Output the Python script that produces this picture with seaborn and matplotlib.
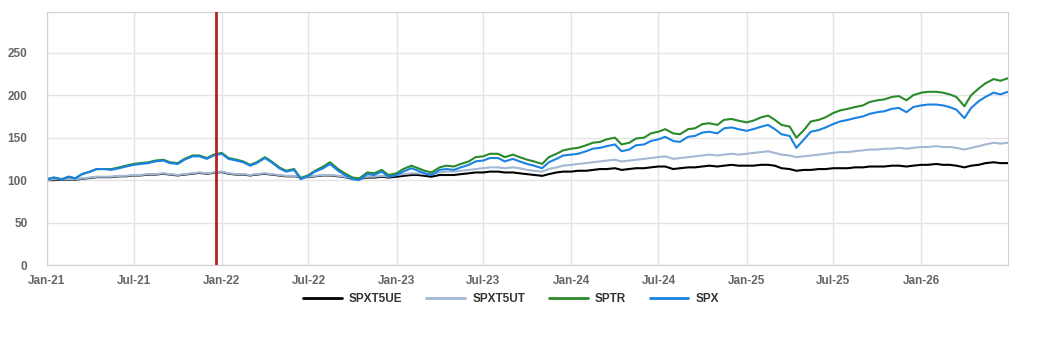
import pandas as pd
import numpy as np
import matplotlib
matplotlib.use("Agg")
import matplotlib.pyplot as plt
import matplotlib.dates as mdates
import seaborn as sns

# semimonthly readings, Jan 2021 -> Jul 2026
dates = pd.date_range("2021-01-01", "2026-07-01", freq="SMS")

spx = [101, 103, 101, 104, 102, 107, 110, 113, 113, 112, 114, 116,
       118, 119, 120, 122, 123, 120, 119, 124, 128, 128, 125, 129,
       131, 125, 123, 121, 117, 120, 126, 121, 114, 110, 112, 101,
       105, 110, 114, 119, 111, 106, 101, 100, 107, 106, 110, 104,
       106, 110, 114, 111, 108, 106, 112, 113, 112, 115, 118, 122,
       123, 126, 126, 122, 125, 122, 119, 117, 114, 121, 125, 129,
       130, 131, 134, 137, 138, 140, 142, 134, 136, 141, 142, 146,
       148, 151, 146, 145, 151, 152, 156, 157, 155, 161, 162, 160,
       158, 160, 163, 165, 160, 154, 152, 138, 148, 157, 159, 162,
       166, 169, 171, 173, 175, 178, 180, 181, 184, 185, 180, 186,
       188, 189, 189, 188, 186, 183, 173, 185, 193, 198, 203, 201,
       204]

sptr = [101, 103, 101, 104, 102, 107, 110, 113, 113, 113, 115, 117,
        119, 120, 121, 123, 124, 121, 120, 125, 129, 129, 126, 130,
        132, 126, 124, 122, 118, 121, 127, 122, 115, 111, 113, 102,
        106, 111, 116, 121, 113, 108, 103, 102, 109, 108, 112, 106,
        108, 113, 117, 114, 111, 109, 115, 117, 116, 119, 122, 127,
        128, 131, 131, 127, 130, 127, 124, 122, 119, 127, 131, 135,
        137, 138, 141, 144, 145, 148, 150, 142, 144, 149, 150, 155,
        157, 160, 155, 154, 160, 161, 166, 167, 165, 171, 172, 170,
        168, 170, 174, 176, 171, 165, 163, 150, 159, 169, 171, 174,
        179, 182, 184, 186, 188, 192, 194, 195, 198, 199, 194, 200,
        203, 204, 204, 203, 201, 198, 187, 200, 208, 214, 219, 217,
        220]

spxt5ut = [100, 101, 101, 101, 101, 102, 103, 104, 104, 104, 105, 105,
           106, 106, 107, 107, 108, 107, 106, 107, 108, 109, 108, 109,
           110, 108, 107, 107, 106, 107, 108, 107, 106, 105, 105, 104,
           104, 105, 106, 106, 105, 104, 102, 102, 104, 104, 105, 104,
           106, 107, 108, 108, 107, 107, 109, 110, 110, 111, 112, 113,
           114, 115, 115, 114, 115, 114, 112, 111, 110, 113, 115, 117,
           118, 119, 120, 121, 122, 123, 124, 122, 123, 124, 125, 126,
           127, 128, 125, 126, 127, 128, 129, 130, 129, 130, 131, 130,
           131, 132, 133, 134, 132, 130, 129, 127, 128, 129, 130, 131,
           132, 133, 133, 134, 135, 136, 136, 137, 137, 138, 137, 138,
           139, 139, 140, 139, 139, 138, 136, 138, 140, 142, 144, 143,
           144]

spxt5ue = [100, 100, 100.5, 100.5, 100.5, 101.5, 102.5, 103.5, 103.5, 103.5, 104.5, 104.5,
           105.5, 105.5, 106.5, 106.5, 107.5, 106.5, 105.5, 106.5, 107.5, 108.5, 107.5, 108.5,
           109.5, 107.5, 106.5, 106.5, 105.5, 106.5, 107.5, 106.5, 105.5, 104.5, 104.5, 103.5,
           103.5, 104.5, 105.5, 105.5, 104.5, 103.5, 101.5, 101.5, 103, 103, 104, 103,
           104, 105, 106, 106, 105, 104, 106, 106, 106, 107, 108, 109,
           109, 110, 110, 109, 109, 108, 107, 106, 105, 107, 109, 110,
           110, 111, 111, 112, 113, 113, 114, 112, 113, 114, 114, 115,
           116, 116, 113, 114, 115, 115, 116, 117, 116, 117, 118, 117,
           117, 117, 118, 118, 117, 114, 113, 111, 112, 112, 113, 113,
           114, 114, 114, 115, 115, 116, 116, 116, 117, 117, 116, 117,
           118, 118, 119, 118, 118, 117, 115, 117, 118, 120, 121, 120,
           120]

names = ["SPXT5UE", "SPXT5UT", "SPTR", "SPX"]
colors = ["#000000", "#a3b8d3", "#2a8a2a", "#1a82e2"]
marker_date = pd.Timestamp("2021-12-20")
tick_dates = pd.date_range("2021-01-01", "2026-01-01", freq="6MS")

df = pd.DataFrame({"date": dates, "SPXT5UE": spxt5ue, "SPXT5UT": spxt5ut,
                   "SPTR": sptr, "SPX": spx})
long_df = df.melt(id_vars="date", var_name="index", value_name="value")

sns.set_style("white")
plt.rcParams["font.family"] = ["Liberation Sans", "DejaVu Sans"]

fig = plt.figure(figsize=(10.5, 3.5), dpi=100)
ax = fig.add_axes([47 / 1050, 1 - 265 / 350, 961 / 1050, 253 / 350])

sns.lineplot(data=long_df, x="date", y="value", hue="index", hue_order=names,
             palette=dict(zip(names, colors)), linewidth=1.5, ax=ax)

ax.axvline(marker_date, color="#b22222", linewidth=2, zorder=5)

ax.set_xlim(pd.Timestamp("2021-01-01"), pd.Timestamp("2026-07-01"))
ax.set_ylim(0, 298)
ax.set_yticks([0, 50, 100, 150, 200, 250])
ax.set_xticks(tick_dates)
ax.xaxis.set_major_formatter(mdates.DateFormatter("%b-%y"))
ax.grid(True, color="#e2e4e8", linewidth=1)
for s in ax.spines.values():
    s.set_color("#ccd0d8")
ax.tick_params(axis="x", length=5, color="#ccd0d8", labelsize=8.5, labelcolor="#666666", pad=2)
ax.tick_params(axis="y", length=0, labelsize=8.5, labelcolor="#666666", pad=14)
for lab in ax.get_xticklabels() + ax.get_yticklabels():
    lab.set_fontweight("bold")
ax.set_xlabel("")
ax.set_ylabel("")

leg = ax.legend(loc="center", bbox_to_anchor=(511 / 1050, 1 - 299 / 350),
                bbox_transform=fig.transFigure, ncol=4, frameon=False,
                handlelength=3.3, handletextpad=0.6, columnspacing=2.0,
                prop={"weight": "bold", "size": 8.5})
for line in leg.get_lines():
    line.set_linewidth(2)
for t in leg.get_texts():
    t.set_color("#333333")

fig.savefig("out.png", dpi=100)
